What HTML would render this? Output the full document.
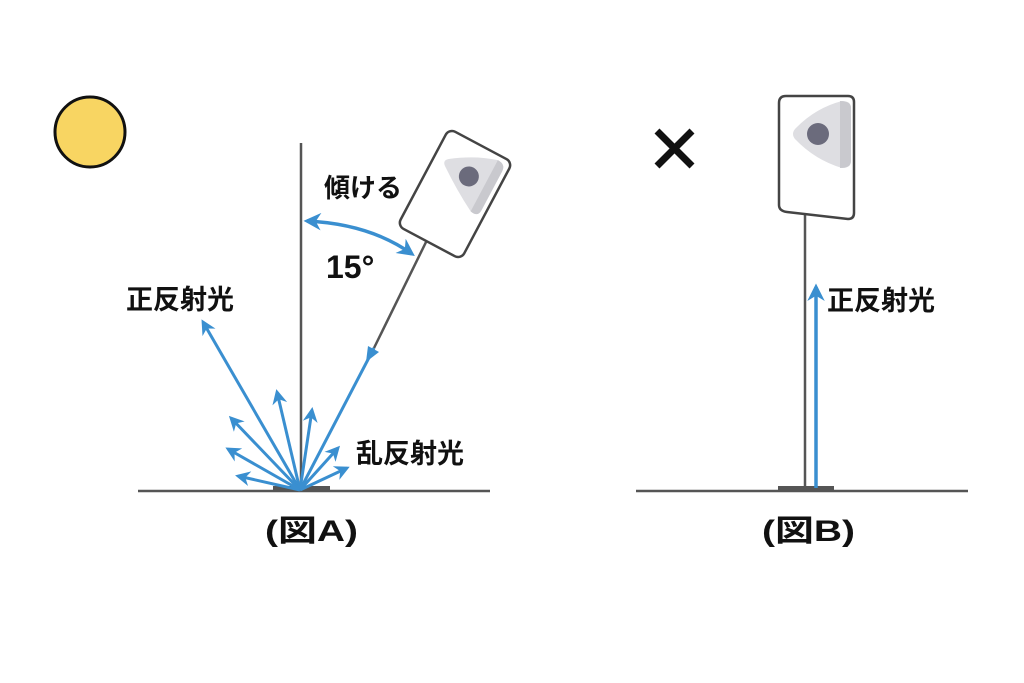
<!DOCTYPE html>
<html><head><meta charset="utf-8"><style>
html,body{margin:0;padding:0;background:#fff;}
svg{display:block;}
text{font-family:"Liberation Sans","Noto Sans CJK JP",sans-serif;font-weight:bold;fill:#111;}
</style></head><body>
<svg width="1024" height="683" viewBox="0 0 1024 683" xmlns="http://www.w3.org/2000/svg">
<defs>
<marker id="ah" viewBox="0 0 10 10" refX="8" refY="5" markerWidth="5" markerHeight="5" orient="auto-start-reverse">
<path d="M0,0 L10,5 L0,10 L3,5 z" fill="#3a8fd0"/>
</marker>
</defs>
<circle cx="90" cy="132" r="35" fill="#f8d562" stroke="#111" stroke-width="3"/>

<line x1="138" y1="491" x2="490" y2="491" stroke="#555" stroke-width="2.5"/>
<rect x="273" y="486" width="57" height="6" fill="#555"/>
<line x1="301" y1="143" x2="301" y2="490" stroke="#555" stroke-width="2.5"/>
<line x1="428" y1="238" x2="374" y2="348" stroke="#555" stroke-width="2.5"/>
<g transform="translate(455,194) rotate(28)">
<rect x="-36" y="-55" width="72" height="110" rx="7" fill="#fff" stroke="#444" stroke-width="2.5"/>
<path d="M22,-50 Q31,-50 31,-42 L31,2 Q31,10 22,8 Q0,-4 -22,-20 Q-27,-24 -22,-28 Q0,-44 22,-50 Z" fill="#dedee2"/>
<path d="M22,-50 Q31,-50 31,-42 L31,2 Q31,10 22,8 Z" fill="#c9c9ce"/>
<circle cx="4" cy="-22" r="10" fill="#6b6b7c"/>
</g>
<line x1="300" y1="490" x2="374" y2="348" stroke="#3a8fd0" stroke-width="3"/>
<path d="M366,362 L379,352 L368,346 Z" fill="#3a8fd0"/>
<path d="M307,221 Q370,224 412,254" fill="none" stroke="#3a8fd0" stroke-width="3.5" marker-start="url(#ah)" marker-end="url(#ah)"/>
<g stroke="#3a8fd0" stroke-width="3" marker-end="url(#ah)">
<line x1="300" y1="490" x2="203" y2="322"/>
<line x1="300" y1="490" x2="277" y2="392"/>
<line x1="300" y1="490" x2="231" y2="418"/>
<line x1="300" y1="490" x2="228" y2="449"/>
<line x1="300" y1="490" x2="238" y2="476"/>
<line x1="300" y1="490" x2="312" y2="410"/>
<line x1="300" y1="490" x2="338" y2="448"/>
<line x1="300" y1="490" x2="347" y2="468"/>
</g>
<text x="324" y="197" font-size="26">傾ける</text>
<text x="326" y="278" font-size="32">15°</text>
<text x="126" y="309" font-size="27">正反射光</text>
<text x="356" y="463" font-size="27">乱反射光</text>
<text x="265" y="541" font-size="30" textLength="93" lengthAdjust="spacingAndGlyphs">(図A)</text>

<line x1="636" y1="491" x2="968" y2="491" stroke="#555" stroke-width="2.5"/>
<rect x="778" y="486" width="56" height="6" fill="#555"/>
<line x1="805" y1="215" x2="805" y2="490" stroke="#555" stroke-width="2.5"/>
<path d="M786,96 L848,96 Q854,96 854,102 L854,213 Q854,219 848,219 L787,212 Q779,211 779,205 L779,103 Q779,96 786,96 Z" fill="#fff" stroke="#444" stroke-width="2.5"/>
<path d="M842,101 Q851,101 851,108 L851,161 Q851,168 842,168 Q815,160 795,139 Q791,134 795,129 Q815,108 842,101 Z" fill="#dedee2"/>
<path d="M840,101 Q851,101 851,108 L851,161 Q851,168 840,168 Z" fill="#c9c9ce"/>
<circle cx="818" cy="134" r="11" fill="#6b6b7c"/>
<line x1="816" y1="488" x2="816" y2="287" stroke="#3a8fd0" stroke-width="3.5" marker-end="url(#ah)"/>
<text x="827" y="310" font-size="27">正反射光</text>
<path d="M657,131 L692,166 M692,131 L657,166" stroke="#111" stroke-width="7"/>
<text x="762" y="541" font-size="30" textLength="93" lengthAdjust="spacingAndGlyphs">(図B)</text>
</svg>
</body></html>
